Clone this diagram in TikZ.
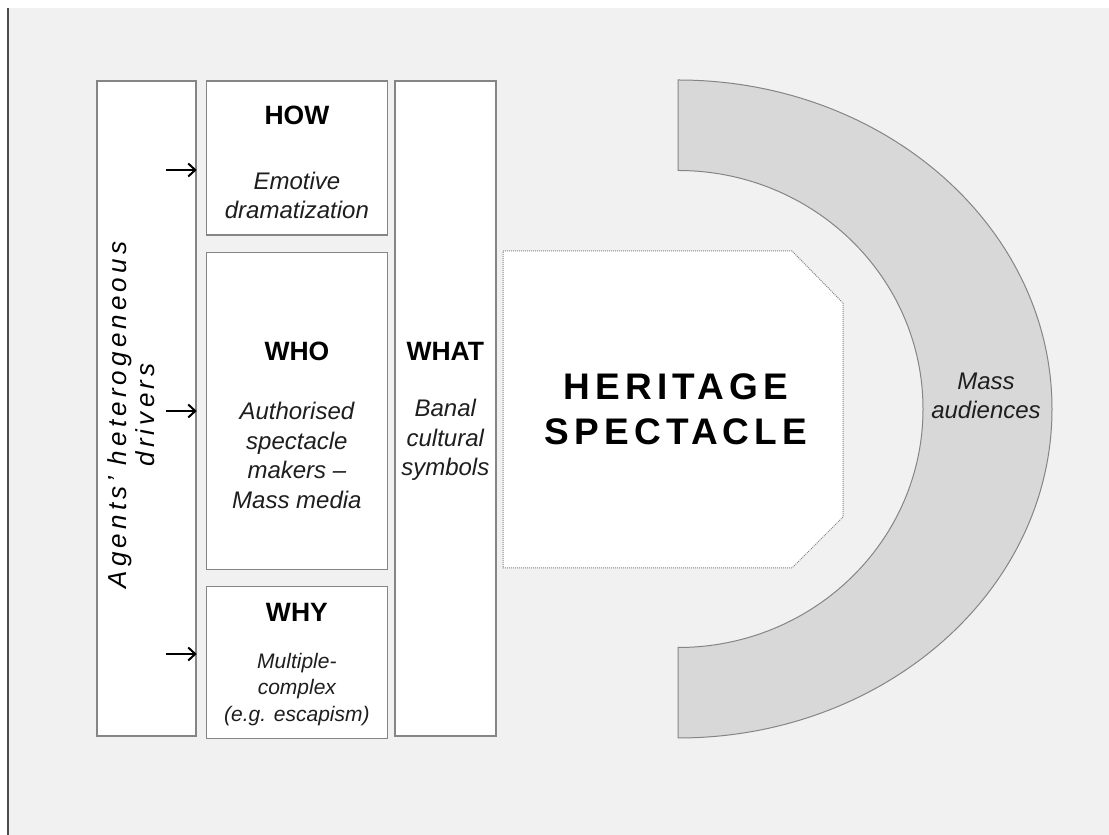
\documentclass[tikz,border=0pt]{standalone}
\usepackage{fontspec}
\setmainfont{Liberation Sans}
\newfontfamily\drvfont[LetterSpace=16]{Liberation Sans}
\newfontfamily\stagefont[LetterSpace=14]{Liberation Sans}
\usetikzlibrary{positioning,arrows.meta}

\definecolor{bgfill}{HTML}{F1F1F1}
\definecolor{edge}{HTML}{858585}
\definecolor{band}{HTML}{D8D8D8}
\definecolor{ink}{HTML}{1E1E1E}

\tikzset{
  box/.style={draw=edge, line width=1.4pt, fill=white, inner sep=0pt},
  hd/.style={font=\fontsize{26.5}{30}\selectfont\bfseries, text=black},
  txt/.style={font=\fontsize{24}{29.5}\selectfont\itshape, text=ink, align=center},
  smalltxt/.style={font=\fontsize{21}{26.5}\selectfont\itshape, text=ink, align=center},
  feed/.style={-{Straight Barb[length=7pt,width=13pt,line width=2pt]}, line width=2pt},
}

\begin{document}
\begin{tikzpicture}[x=1pt,y=1pt]
  \useasboundingbox (0,0) rectangle (1109,835);
  \fill[white] (0,0) rectangle (1109,835);
  \fill[bgfill] (9,0) rectangle (1109,827);
  \draw[line width=2pt, black!70] (8,0) -- (8,827);

  % columns
  \node[box, minimum width=99, minimum height=655] (drv) at (146.5,426.5) {};
  \node[box, minimum width=181, minimum height=154, below right=0pt and 9pt of drv.north east] (how) {};
  \node[box, minimum width=181, minimum height=317, below=16pt of how] (who) {};
  \node[box, minimum width=181, minimum height=152, below=16pt of who] (why) {};
  \node[box, minimum width=101, minimum height=655, right=6pt of drv.east -| how.east] (what) {};

  \node[rotate=90, align=center, font=\fontsize{26}{28}\selectfont\drvfont\itshape] (drvtxt) at (131,420) {Agents’ heterogeneous\\drivers};

  \node[hd] (howh) at (how.center |- 0,720) {HOW};
  \node[txt] (howt) at (how.center |- 0,639.5) {Emotive\\dramatization};
  \node[hd] (whoh) at (who.center |- 0,484) {WHO};
  \node[txt] (whot) at (who.center |- 0,379.5) {Authorised\\spectacle\\makers --\\Mass media};
  \node[hd] (whyh) at (why.center |- 0,223) {WHY};
  \node[smalltxt] (whyt) at (why.center |- 0,145.5) {Multiple-\\complex\\(e.g. escapism)};
  \node[hd] (whath) at (what.center |- 0,484) {WHAT};
  \node[txt] (whatt) at (what.center |- 0,395) {Banal\\cultural\\symbols};

  % drivers feeding the three boxes
  \foreach \y/\n in {665/a1, 424/a2, 181/a3} {
    \coordinate (\n) at (166,\y);
    \draw[feed] (\n) -- (drv.east |- \n);
  }

  % audience band
  \draw[draw=edge, line width=1pt, fill=band] (678,755)
    arc[start angle=90, end angle=-90, x radius=374, y radius=329]
    -- (678,187.5)
    arc[start angle=-90, end angle=90, x radius=245, y radius=238.5] -- cycle;
  \node[txt] (mass) at (986,439) {Mass\\audiences};

  % the spectacle
  \draw[draw=edge, line width=1pt, densely dotted, fill=white]
    (503,584) -- (792,584) -- (843,532) -- (843,318) -- (792,267) -- (503,267) -- cycle;
  \node[align=center, font=\fontsize{37}{45}\selectfont\stagefont\bfseries] (spec) at (676,425.5) {HERITAGE\\SPECTACLE};
\end{tikzpicture}
\end{document}
